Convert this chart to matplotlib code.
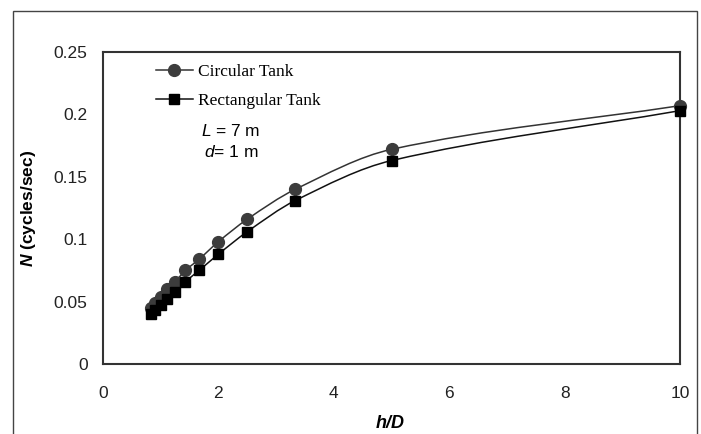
import matplotlib
matplotlib.use("Agg")
import matplotlib.pyplot as plt
from matplotlib.lines import Line2D
from matplotlib.patches import Rectangle, PathPatch
from matplotlib.path import Path

# data
h_over_D = [10.0, 5.0, 3.333, 2.5, 2.0, 1.667, 1.429, 1.25, 1.111, 1.0, 0.909, 0.833]
n_circular = [0.207, 0.172, 0.140, 0.116, 0.098, 0.084, 0.075, 0.066, 0.060, 0.054, 0.049, 0.045]
n_rectangular = [0.203, 0.163, 0.131, 0.106, 0.088, 0.075, 0.066, 0.058, 0.052, 0.047, 0.043, 0.040]
series_names = ["Circular Tank", "Rectangular Tank"]
x_ticks = [0, 2, 4, 6, 8, 10]
y_ticks = [0, 0.05, 0.1, 0.15, 0.2, 0.25]
y_tick_labels = ["0", "0.05", "0.1", "0.15", "0.2", "0.25"]

plt.rcParams["font.family"] = ["Liberation Sans", "DejaVu Sans"]
plt.rcParams["mathtext.fontset"] = "custom"
plt.rcParams["mathtext.rm"] = "Liberation Sans"
plt.rcParams["mathtext.it"] = "Liberation Sans:italic"
plt.rcParams["mathtext.bf"] = "Liberation Sans:bold"
plt.rcParams["mathtext.bfit"] = "Liberation Sans:italic:bold"


def smooth_path(xs, ys):
    # smoothed line like excel: hermite-style bezier segments through the points
    pts = sorted(zip(xs, ys))
    x = [p[0] for p in pts]
    y = [p[1] for p in pts]
    n = len(pts)
    m = []
    for i in range(n):
        a = max(i - 1, 0)
        b = min(i + 1, n - 1)
        m.append((y[b] - y[a]) / (x[b] - x[a]))
    verts = [pts[0]]
    codes = [Path.MOVETO]
    for i in range(n - 1):
        h = (x[i + 1] - x[i]) / 3
        verts += [(x[i] + h, y[i] + m[i] * h),
                  (x[i + 1] - h, y[i + 1] - m[i + 1] * h),
                  (x[i + 1], y[i + 1])]
        codes += [Path.CURVE4] * 3
    return Path(verts, codes)


W, H = 701, 434
fig = plt.figure(figsize=(W / 100, H / 100), dpi=100)
ax = fig.add_axes([103 / W, (H - 364) / H, 577 / W, 312 / H])

# outer frame around the whole chart
fig.patches.append(Rectangle((13 / W, -0.05), 684 / W, 1.05 - 11 / H,
                             transform=fig.transFigure, fill=False,
                             edgecolor="#444444", lw=1.0))

circ_col, rect_col = "#3c3c3c", "#000000"
ax.add_patch(PathPatch(smooth_path(h_over_D, n_circular), fill=False,
                       edgecolor="#333333", lw=1.1, zorder=2))
ax.add_patch(PathPatch(smooth_path(h_over_D, n_rectangular), fill=False,
                       edgecolor="#111111", lw=1.1, zorder=2))
ax.plot(h_over_D, n_circular, ls="none", marker="o", markersize=8.5,
        markerfacecolor=circ_col, markeredgecolor=circ_col, zorder=3,
        clip_on=False)
ax.plot(h_over_D, n_rectangular, ls="none", marker="s", markersize=7.5,
        markerfacecolor=rect_col, markeredgecolor=rect_col, zorder=3,
        clip_on=False)

ax.set_xlim(0, 10)
ax.set_ylim(0, 0.25)
ax.set_xticks(x_ticks)
ax.set_yticks(y_ticks)
ax.set_yticklabels(y_tick_labels)
ax.tick_params(length=0, labelsize=12.5, colors="#222222")
ax.tick_params(axis="y", pad=11)
ax.tick_params(axis="x", pad=16)
for s in ax.spines.values():
    s.set_color("#333333")
    s.set_linewidth(1.5)

ax.set_xlabel("h/D", fontsize=13, fontweight="bold", style="italic")
ax.xaxis.set_label_coords(0.497, -0.163)
ax.set_ylabel(r"$\mathbfit{N}$ (cycles/sec)", fontsize=12.5, fontweight="bold")
ax.yaxis.set_label_coords(-0.113, 0.5)

handles = [
    Line2D([], [], color="#333333", lw=1.1, marker="o", markersize=8.5,
           markerfacecolor=circ_col, markeredgecolor=circ_col),
    Line2D([], [], color="#111111", lw=1.1, marker="s", markersize=7.5,
           markerfacecolor=rect_col, markeredgecolor=rect_col),
]
ax.legend(handles, series_names, loc="upper left", bbox_to_anchor=(0.08, 0.985),
          frameon=False, prop={"family": "Liberation Serif", "size": 12.5},
          handlelength=2.1, handletextpad=0.3, labelspacing=0.75,
          borderaxespad=0)

ax.text(0.17, 0.748, "$L$ = 7 m", transform=ax.transAxes, fontsize=12.5,
        ha="left", va="center")
ax.text(0.175, 0.68, "$d$= 1 m", transform=ax.transAxes, fontsize=12.5,
        ha="left", va="center")

fig.savefig("out.png", dpi=100)
